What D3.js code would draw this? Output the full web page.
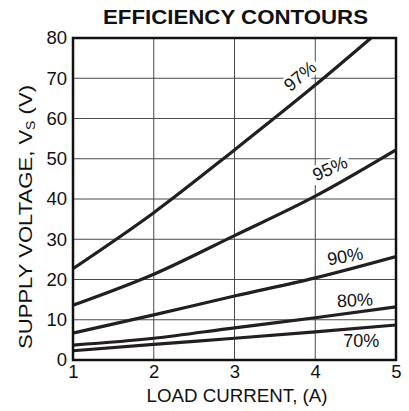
<!DOCTYPE html>
<html><head><meta charset="utf-8">
<script src="https://cdn.jsdelivr.net/npm/d3@7"></script>
<style>
html,body{margin:0;padding:0;background:#fff;}
svg text{font-family:"Liberation Sans",Arial,Helvetica,sans-serif;fill:#111;}
</style></head>
<body>
<svg id="chart" width="409" height="411"></svg>
<script>
// ---- data ----
const xTicks = [1, 2, 3, 4, 5];
const yTicks = [0, 10, 20, 30, 40, 50, 60, 70, 80];
const eff97 = [[1, 22.7], [2, 36.6], [3, 52.2], [4, 68.3], [4.69, 80]];
const eff95 = [[1, 13.6], [2, 21.3], [3, 30.9], [4, 40.7], [5, 52.2]];
const eff90 = [[1, 6.7], [2, 11.2], [3, 15.9], [4, 20.4], [5, 25.7]];
const eff80 = [[1, 3.7], [2, 5.4], [3, 8.0], [4, 10.5], [5, 13.2]];
const eff70 = [[1, 2.3], [2, 3.9], [3, 5.4], [4, 7.0], [5, 8.7]];
const seriesNames = ["97%", "95%", "90%", "80%", "70%"];
const seriesData = [eff97, eff95, eff90, eff80, eff70];
// label anchor positions (data coords) and rotation
const labelPos = [[3.81, 70.6], [4.18, 47.6], [4.37, 25.8], [4.49, 14.9], [4.57, 4.7]];
const labelRot = [-40, -24, -10, -3, 0];

const svg = d3.select("#chart");
const L = 73, R = 396, T = 38, B = 360;
const x = d3.scaleLinear().domain([1, 5]).range([L, R]);
const y = d3.scaleLinear().domain([0, 80]).range([B, T]);

// grid
const grid = svg.append("g");
grid.selectAll("line.v").data(xTicks.slice(1, -1)).join("line")
  .attr("x1", d => x(d)).attr("x2", d => x(d)).attr("y1", T).attr("y2", B)
  .attr("stroke", "#4a4a4a").attr("stroke-width", 1);
grid.selectAll("line.h").data(yTicks.slice(1, -1)).join("line")
  .attr("x1", L).attr("x2", R).attr("y1", d => y(d)).attr("y2", d => y(d))
  .attr("stroke", "#4a4a4a").attr("stroke-width", 1);

// labels (with white background boxes)
const labG = svg.append("g");
const labels = [];
seriesNames.forEach((n, i) => {
  const g = labG.append("g")
    .attr("transform", `translate(${x(labelPos[i][0])},${y(labelPos[i][1])}) rotate(${labelRot[i]})`);
  const t = g.append("text").attr("text-anchor", "middle").attr("dy", "0.35em")
    .attr("font-size", 18).text(n);
  labels.push([g, t]);
});
labels.forEach(([g, t]) => {
  const bb = t.node().getBBox();
  g.insert("rect", "text").attr("x", bb.x - 3).attr("y", bb.y + 1)
    .attr("width", bb.width + 6).attr("height", bb.height - 2).attr("fill", "#fff");
});

// curves
svg.append("clipPath").attr("id", "plotclip").append("rect")
  .attr("x", L).attr("y", T).attr("width", R - L).attr("height", B - T);
const line = d3.line().x(d => x(d[0])).y(d => y(d[1])).curve(d3.curveMonotoneX);
const curves = svg.append("g").attr("clip-path", "url(#plotclip)");
seriesData.forEach(s => {
  curves.append("path").attr("d", line(s)).attr("fill", "none")
    .attr("stroke", "#231f20").attr("stroke-width", 3.2);
});

// frame
svg.append("rect").attr("x", L).attr("y", T).attr("width", R - L).attr("height", B - T)
  .attr("fill", "none").attr("stroke", "#111").attr("stroke-width", 2.5);

// axes
const xAxis = svg.append("g").attr("transform", `translate(0,${B})`)
  .call(d3.axisBottom(x).tickValues(xTicks).tickSize(0).tickPadding(5).tickFormat(d3.format("d")));
const yAxis = svg.append("g").attr("transform", `translate(${L},0)`)
  .call(d3.axisLeft(y).tickValues(yTicks).tickSize(0).tickPadding(6).tickFormat(d3.format("d")));
[xAxis, yAxis].forEach(a => {
  a.select(".domain").remove();
  a.selectAll("text").attr("font-size", 18.5).attr("fill", "#111")
    .style("font-family", '"Liberation Sans",Arial,sans-serif');
});

// titles
svg.append("text").attr("x", 235.5).attr("y", 24).attr("text-anchor", "middle")
  .attr("font-size", 20).attr("font-weight", "bold")
  .attr("textLength", 265).attr("lengthAdjust", "spacingAndGlyphs")
  .text("EFFICIENCY CONTOURS");
svg.append("text").attr("x", 237).attr("y", 402).attr("text-anchor", "middle")
  .attr("font-size", 19).attr("textLength", 181).attr("lengthAdjust", "spacingAndGlyphs")
  .text("LOAD CURRENT, (A)");
const yt = svg.append("text").attr("transform", "translate(32,217) rotate(-90)")
  .attr("text-anchor", "middle").attr("font-size", 19)
  .attr("textLength", 264).attr("lengthAdjust", "spacingAndGlyphs");
yt.append("tspan").text("SUPPLY VOLTAGE, V");
yt.append("tspan").attr("font-size", 12).attr("dy", 3).text("S");
yt.append("tspan").attr("dy", -3).text(" (V)");
</script>
</body></html>
